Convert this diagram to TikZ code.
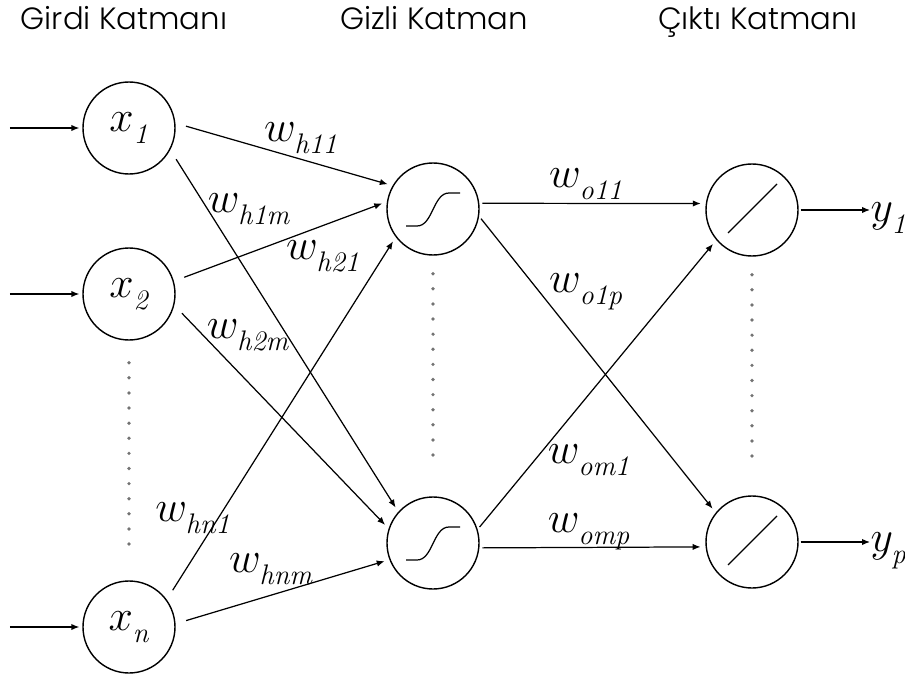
\documentclass[tikz,border=0pt]{standalone}
\usepackage{fontspec}
\newfontfamily\layerfont{Poppins Light}
\usetikzlibrary{positioning,arrows.meta}

% italic subscript, set a little lower than usual
\newcommand{\lsub}[1]{_{\raisebox{-3pt}{$\scriptstyle\mathit{#1}$}}}

\begin{document}
\begin{tikzpicture}[
  >={Latex[length=4.5pt,width=3.6pt]},
  line width=0.7pt,
  neuron/.style={draw, circle, line width=0.8pt, minimum size=1.84cm, inner sep=0pt,
                 font=\fontsize{23}{26}\selectfont},
  layer/.style={font=\layerfont\fontsize{17.5}{20}\selectfont, anchor=base},
  weight/.style={font=\fontsize{23}{26}\selectfont, inner sep=0pt},
  tohid/.style={->, shorten <=0.22cm, shorten >=0.1cm},
  toout/.style={->, shorten <=0.06cm, shorten >=0.1cm},
  dots/.style={black!55, line width=2.1pt, line cap=round, dash pattern=on 0pt off 8.6pt}
]
\useasboundingbox (0,0) rectangle (18.1,-13.54);

% --- Layer titles ---
\node[layer] (tin)  at ( 2.48, -0.60) {Girdi Katmanı};
\node[layer] (thid) at ( 8.68, -0.60) {Gizli Katman};
\node[layer] (tout) at (15.16, -0.60) {Çıktı Katmanı};

% --- Input layer ---
\node[neuron] (x1) at (2.58,  -2.56) {$x\lsub{1}$};
\node[neuron] (x2) at (2.58,  -5.88) {$x\lsub{2}$};
\node[neuron] (xn) at (2.58, -12.54) {$x\lsub{n}$};

\coordinate (in1) at (0.2,  -2.56);
\coordinate (in2) at (0.2,  -5.88);
\coordinate (inn) at (0.2, -12.54);

\draw[->, shorten >=0.06cm] (in1) -- (x1.west);
\draw[->, shorten >=0.06cm] (in2) -- (x2.west);
\draw[->, shorten >=0.06cm] (inn) -- (xn.west);

% --- Hidden layer (sigmoid) and output layer (linear) ---
\node[neuron] (h1) at ( 8.66,  -4.18) {};
\node[neuron] (hm) at ( 8.66, -10.86) {};
\node[neuron] (o1) at (15.04,  -4.20) {};
\node[neuron] (op) at (15.04, -10.84) {};

\foreach \n in {h1,hm}
  \draw[shift={(\n)}] (-0.54,-0.34) -- (-0.32,-0.34)
    .. controls (0.0,-0.34) and (0.0,0.32) .. (0.32,0.32) -- (0.54,0.32);
\foreach \n in {o1,op}
  \draw[shift={(\n)}] (-0.48,-0.46) -- (0.5,0.52);

% --- Outputs ---
\node[weight, anchor=west] (y1) at (17.40,  -4.36) {$y\lsub{1}$};
\node[weight, anchor=west] (yp) at (17.40, -11.02) {$y\lsub{p}$};

\draw[->, shorten <=0.04cm] (o1.east) -- (y1.west |- o1.east);
\draw[->, shorten <=0.04cm] (op.east) -- (yp.west |- op.east);

% --- Input to hidden ---
\draw[tohid] (x1.6)   -- (h1.150);
\draw[tohid] (x1.-28) -- (hm.138);
\draw[tohid] (x2.16)  -- (h1.171);
\draw[tohid] (x2.-14) -- (hm.162);
\draw[tohid] (xn.36)  -- (h1.-143);
\draw[tohid] (xn.4)   -- (hm.-159);

\node[weight] (wh11) at (6.02,  -2.76) {$w\lsub{h11}$};
\node[weight] (wh1m) at (4.98,  -4.18) {$w\lsub{h1m}$};
\node[weight] (wh21) at (6.46,  -5.12) {$w\lsub{h21}$};
\node[weight] (wh2m) at (4.96,  -6.70) {$w\lsub{h2m}$};
\node[weight] (whn1) at (3.86, -10.36) {$w\lsub{hn1}$};
\node[weight] (whnm) at (5.42, -11.38) {$w\lsub{hnm}$};

% --- Hidden to output ---
\draw[toout] (h1.7)  -- (o1.172);
\draw[toout] (h1.-9) -- (op.141);
\draw[toout] (hm.17) -- (o1.-140);
\draw[toout] (hm.-6) -- (op.186);

\node[weight] (wo11) at (11.72, -3.68) {$w\lsub{o11}$};
\node[weight] (wo1p) at (11.72, -5.84) {$w\lsub{o1p}$};
\node[weight] (wom1) at (11.78, -9.20) {$w\lsub{om1}$};
\node[weight] (womp) at (11.78,-10.64) {$w\lsub{omp}$};

% --- Elided neurons ---
\draw[dots, shorten <=0.44cm, shorten >=0.44cm] (x2.south) -- (xn.north);
\draw[dots, shorten <=0.36cm, shorten >=0.56cm] (h1.south) -- (hm.north);
\draw[dots, shorten <=0.36cm, shorten >=0.56cm] (o1.south) -- (op.north);

\end{tikzpicture}
\end{document}
